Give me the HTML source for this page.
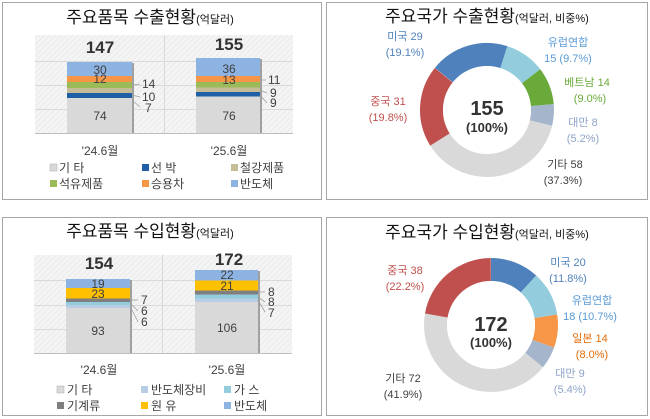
<!DOCTYPE html>
<html><head><meta charset="utf-8"><style>
body{margin:0;background:#fff;}
svg{display:block;font-family:"Liberation Sans","Noto Sans CJK KR",sans-serif;}
</style></head><body>
<svg width="650" height="419" viewBox="0 0 650 419">
<defs>
<pattern id="hatch" width="4" height="4" patternUnits="userSpaceOnUse" patternTransform="rotate(45)">
<rect width="4" height="4" fill="#f4f4f4"/><line x1="0" y1="0" x2="0" y2="4" stroke="#e2e2e2" stroke-width="1"/>
</pattern>
</defs>
<rect x="2.5" y="2.5" width="319" height="197" fill="#fff" stroke="#a6a6a6"/>
<rect x="326.5" y="2.5" width="321" height="197" fill="#fff" stroke="#a6a6a6"/>
<rect x="2.5" y="217.5" width="319" height="198" fill="#fff" stroke="#a6a6a6"/>
<rect x="326.5" y="217.5" width="321" height="198" fill="#fff" stroke="#a6a6a6"/>

<text x="150" y="23" text-anchor="middle" font-size="17" fill="#111">주요품목 수출현황<tspan font-size="11">(억달러)</tspan></text>
<rect x="35" y="35" width="258" height="98" fill="url(#hatch)"/>
<g stroke="#d9d9d9" stroke-width="1"><line x1="35" y1="61.5" x2="293" y2="61.5"/><line x1="35" y1="85.5" x2="293" y2="85.5"/><line x1="35" y1="109.5" x2="293" y2="109.5"/><line x1="164.5" y1="35" x2="164.5" y2="133"/></g>
<line x1="35" y1="133.5" x2="293" y2="133.5" stroke="#bfbfbf"/>
<g>
<rect x="67" y="98" width="65" height="35" fill="#d9d9d9"/>
<rect x="67" y="93" width="65" height="5" fill="#1f5fa8"/>
<rect x="67" y="88" width="65" height="5" fill="#c4bd97"/>
<rect x="67" y="82" width="65" height="6" fill="#9bbb59"/>
<rect x="67" y="76" width="65" height="6" fill="#f79646"/>
<rect x="67" y="62" width="65" height="14" fill="#8db3e2"/>
<rect x="132" y="63" width="2" height="70" fill="#a0a0a0"/>
<rect x="196" y="96.5" width="64" height="36.5" fill="#d9d9d9"/>
<rect x="196" y="92" width="64" height="4.5" fill="#1f5fa8"/>
<rect x="196" y="87.5" width="64" height="4.5" fill="#c4bd97"/>
<rect x="196" y="82" width="64" height="5.5" fill="#9bbb59"/>
<rect x="196" y="76" width="64" height="6" fill="#f79646"/>
<rect x="196" y="58" width="64" height="18" fill="#8db3e2"/>
<rect x="260" y="59" width="2" height="74" fill="#a0a0a0"/>
</g>
<g font-size="12" fill="#404040" text-anchor="middle">
<text x="100" y="74">30</text><text x="100" y="83">12</text><text x="100" y="120">74</text>
<text x="229" y="73">36</text><text x="229" y="84">13</text><text x="229" y="120">76</text>
</g>
<g font-size="12" fill="#404040">
<text x="142" y="88">14</text><text x="142" y="101">10</text><text x="145" y="112">7</text>
<text x="268" y="84">11</text><text x="270" y="97">9</text><text x="270" y="107">9</text>
</g>
<g stroke="#a0a0a0" stroke-width="0.8" fill="none">
<line x1="132" y1="85" x2="140" y2="84"/><line x1="132" y1="95" x2="140" y2="97"/><line x1="132" y1="100" x2="140" y2="107"/>
<line x1="260" y1="80" x2="266" y2="80"/><line x1="260" y1="90" x2="267" y2="93"/><line x1="260" y1="95" x2="267" y2="103"/>
</g>
<text x="100" y="53" text-anchor="middle" font-size="17" font-weight="bold" fill="#333">147</text>
<text x="229" y="50" text-anchor="middle" font-size="17" font-weight="bold" fill="#333">155</text>
<text x="100" y="155" text-anchor="middle" font-size="12" fill="#404040">'24.6월</text>
<text x="229" y="155" text-anchor="middle" font-size="12" fill="#404040">'25.6월</text>
<g font-size="12" fill="#404040">
<rect x="50" y="164" width="7" height="7" fill="#d9d9d9" stroke="#aaa" stroke-width="0.5"/><text x="59" y="172">기 타</text>
<rect x="142" y="164" width="7" height="7" fill="#1f5fa8"/><text x="151" y="172">선 박</text>
<rect x="231" y="164" width="7" height="7" fill="#c4bd97"/><text x="240" y="172">철강제품</text>
<rect x="50" y="180" width="7" height="7" fill="#9bbb59"/><text x="59" y="188">석유제품</text>
<rect x="142" y="180" width="7" height="7" fill="#f79646"/><text x="151" y="188">승용차</text>
<rect x="231" y="180" width="7" height="7" fill="#8db3e2"/><text x="240" y="188">반도체</text>
</g>

<text x="150" y="237" text-anchor="middle" font-size="17" fill="#111">주요품목 수입현황<tspan font-size="11">(억달러)</tspan></text>
<rect x="34" y="255" width="258" height="98" fill="url(#hatch)"/>
<g stroke="#d9d9d9" stroke-width="1"><line x1="34" y1="280.5" x2="292" y2="280.5"/><line x1="34" y1="305.5" x2="292" y2="305.5"/><line x1="34" y1="329.5" x2="292" y2="329.5"/><line x1="162.5" y1="255" x2="162.5" y2="353"/></g>
<line x1="34" y1="353.5" x2="292" y2="353.5" stroke="#bfbfbf"/>
<rect x="66" y="308" width="64" height="45" fill="#d9d9d9"/>
<rect x="66" y="305" width="64" height="3" fill="#b8cce4"/>
<rect x="66" y="302" width="64" height="3" fill="#93cddd"/>
<rect x="66" y="298.5" width="64" height="3.5" fill="#7f7f7f"/>
<rect x="66" y="288" width="64" height="10.5" fill="#ffc000"/>
<rect x="66" y="279" width="64" height="9" fill="#8db3e2"/>
<rect x="130" y="280" width="2" height="73" fill="#a0a0a0"/>
<rect x="195" y="302" width="63" height="51" fill="#d9d9d9"/>
<rect x="195" y="298.5" width="63" height="3.5" fill="#b8cce4"/>
<rect x="195" y="294.5" width="63" height="4" fill="#93cddd"/>
<rect x="195" y="290.5" width="63" height="4" fill="#7f7f7f"/>
<rect x="195" y="280.5" width="63" height="10" fill="#ffc000"/>
<rect x="195" y="270" width="63" height="10.5" fill="#8db3e2"/>
<rect x="258" y="271" width="2" height="82" fill="#a0a0a0"/>
<g font-size="12" fill="#404040" text-anchor="middle">
<text x="98" y="288">19</text><text x="98" y="298">23</text><text x="98" y="335">93</text>
<text x="227" y="279">22</text><text x="227" y="290">21</text><text x="227" y="332">106</text>
</g>
<g font-size="12" fill="#404040">
<text x="141" y="304">7</text><text x="141" y="315">6</text><text x="141" y="326">6</text>
<text x="268" y="296">8</text><text x="268" y="306">8</text><text x="268" y="317">7</text>
</g>
<g stroke="#a0a0a0" stroke-width="0.8" fill="none">
<line x1="130" y1="300" x2="138" y2="300"/><line x1="130" y1="303" x2="138" y2="311"/><line x1="130" y1="306" x2="138" y2="322"/>
<line x1="258" y1="292" x2="265" y2="292"/><line x1="258" y1="297" x2="265" y2="302"/><line x1="258" y1="300" x2="265" y2="312"/>
</g>
<text x="99" y="269" text-anchor="middle" font-size="17" font-weight="bold" fill="#333">154</text>
<text x="229" y="265" text-anchor="middle" font-size="17" font-weight="bold" fill="#333">172</text>
<text x="99" y="374" text-anchor="middle" font-size="12" fill="#404040">'24.6월</text>
<text x="227" y="374" text-anchor="middle" font-size="12" fill="#404040">'25.6월</text>
<g font-size="12" fill="#404040">
<rect x="57" y="386" width="7" height="7" fill="#d9d9d9" stroke="#aaa" stroke-width="0.5"/><text x="67" y="394">기 타</text>
<rect x="141" y="386" width="7" height="7" fill="#b8cce4"/><text x="151" y="394">반도체장비</text>
<rect x="224" y="386" width="7" height="7" fill="#93cddd"/><text x="234" y="394">가 스</text>
<rect x="57" y="402" width="7" height="7" fill="#7f7f7f"/><text x="67" y="410">기계류</text>
<rect x="141" y="402" width="7" height="7" fill="#ffc000"/><text x="151" y="410">원 유</text>
<rect x="224" y="402" width="7" height="7" fill="#8db3e2"/><text x="234" y="410">반도체</text>
</g>

<text x="487" y="22" text-anchor="middle" font-size="17" fill="#111">주요국가 수출현황<tspan font-size="11">(억달러, 비중%)</tspan></text>
<g transform="translate(487,110) rotate(-141)" fill="none" stroke-width="23">
<circle r="55.5" pathLength="100" stroke="#4f81bd" stroke-dasharray="19.1 100" stroke-dashoffset="0"/>
<circle r="55.5" pathLength="100" stroke="#93cddd" stroke-dasharray="9.7 100" stroke-dashoffset="-19.1"/>
<circle r="55.5" pathLength="100" stroke="#6aaa3a" stroke-dasharray="9 100" stroke-dashoffset="-28.8"/>
<circle r="55.5" pathLength="100" stroke="#a5b5cc" stroke-dasharray="5.2 100" stroke-dashoffset="-37.8"/>
<circle r="55.5" pathLength="100" stroke="#d9d9d9" stroke-dasharray="37.3 100" stroke-dashoffset="-43"/>
<circle r="55.5" pathLength="100" stroke="#c0504d" stroke-dasharray="19.7 100" stroke-dashoffset="-80.3"/>
</g>
<circle cx="487" cy="110" r="44" fill="#fff"/>
<text x="487" y="115" text-anchor="middle" font-size="20" font-weight="bold" fill="#333">155</text>
<text x="487" y="132" text-anchor="middle" font-size="13" font-weight="bold" fill="#333">(100%)</text>
<g font-size="11" text-anchor="middle">
<text x="405" y="40" fill="#4f81bd">미국 29</text><text x="405" y="56" fill="#4f81bd">(19.1%)</text>
<text x="568" y="46" fill="#5b9bd5">유럽연합</text><text x="568" y="62" fill="#5b9bd5">15 (9.7%)</text>
<text x="587" y="86" fill="#6aaa3a">베트남 14</text><text x="590" y="102" fill="#6aaa3a">(9.0%)</text>
<text x="388" y="105" fill="#c0504d">중국 31</text><text x="388" y="121" fill="#c0504d">(19.8%)</text>
<text x="583" y="126" fill="#8ea4c8">대만 8</text><text x="583" y="142" fill="#8ea4c8">(5.2%)</text>
<text x="565" y="168" fill="#404040">기타 58</text><text x="563" y="184" fill="#404040">(37.3%)</text>
</g>

<text x="487" y="238" text-anchor="middle" font-size="17" fill="#111">주요국가 수입현황<tspan font-size="11">(억달러, 비중%)</tspan></text>
<g transform="translate(491,325) rotate(-90)" fill="none" stroke-width="23">
<circle r="55.5" pathLength="100" stroke="#4f81bd" stroke-dasharray="11.8 100" stroke-dashoffset="0"/>
<circle r="55.5" pathLength="100" stroke="#93cddd" stroke-dasharray="10.7 100" stroke-dashoffset="-11.8"/>
<circle r="55.5" pathLength="100" stroke="#f79646" stroke-dasharray="8 100" stroke-dashoffset="-22.5"/>
<circle r="55.5" pathLength="100" stroke="#a5b5cc" stroke-dasharray="5.4 100" stroke-dashoffset="-30.5"/>
<circle r="55.5" pathLength="100" stroke="#d9d9d9" stroke-dasharray="41.9 100" stroke-dashoffset="-35.9"/>
<circle r="55.5" pathLength="100" stroke="#c0504d" stroke-dasharray="22.2 100" stroke-dashoffset="-77.8"/>
</g>
<circle cx="491" cy="325" r="44" fill="#fff"/>
<text x="491" y="331" text-anchor="middle" font-size="20" font-weight="bold" fill="#333">172</text>
<text x="491" y="347" text-anchor="middle" font-size="13" font-weight="bold" fill="#333">(100%)</text>
<g font-size="11" text-anchor="middle">
<text x="405" y="274" fill="#c0504d">중국 38</text><text x="405" y="290" fill="#c0504d">(22.2%)</text>
<text x="568" y="266" fill="#4f81bd">미국 20</text><text x="568" y="282" fill="#4f81bd">(11.8%)</text>
<text x="592" y="304" fill="#5b9bd5">유럽연합</text><text x="590" y="320" fill="#5b9bd5">18 (10.7%)</text>
<text x="590" y="342" fill="#e46c0a">일본 14</text><text x="592" y="358" fill="#e46c0a">(8.0%)</text>
<text x="570" y="377" fill="#8ea4c8">대만 9</text><text x="570" y="393" fill="#8ea4c8">(5.4%)</text>
<text x="403" y="382" fill="#404040">기타 72</text><text x="403" y="398" fill="#404040">(41.9%)</text>
</g>
</svg>
</body></html>
